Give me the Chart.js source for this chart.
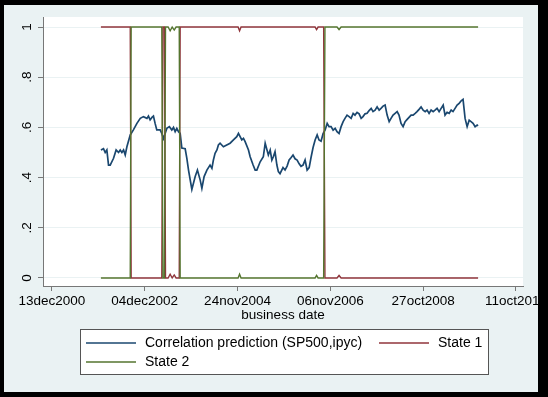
<!DOCTYPE html>
<html>
<head>
<meta charset="utf-8">
<script src="https://cdn.jsdelivr.net/npm/chart.js@4.4.1/dist/chart.umd.min.js"></script>
<style>
  html, body { margin: 0; padding: 0; background: #000; }
  #wrap { position: relative; width: 548px; height: 397px; }
</style>
</head>
<body>
<div id="wrap"><canvas id="chart" width="548" height="397"></canvas></div>
<script>
// x axis is counted in business days from 13dec2000
var tickDays = [0, 500, 1000, 1500, 2000, 2500];
var tickLabels = ['13dec2000', '04dec2002', '24nov2004', '06nov2006', '27oct2008', '11oct2010'];
var yTicks = [0, 0.2, 0.4, 0.6, 0.8, 1];
var yTickLabels = ['0', '.2', '.4', '.6', '.8', '1'];

// Correlation prediction (SP500,ipyc)
var corrDays = [
  264, 278, 287, 296, 305, 314, 332, 346, 359, 368,
  377, 386, 395, 404, 422, 439, 458, 476, 493, 512,
  520, 529, 539, 547, 556, 565, 583, 592, 601, 610,
  619, 633, 646, 655, 664, 673, 682, 691, 700, 718,
  727, 736, 754, 772, 784, 799, 808, 820, 835, 852,
  862, 870, 879, 889, 897, 906, 924, 942, 960, 978,
  996, 1005, 1014, 1023, 1032, 1041, 1059, 1068, 1084, 1095,
  1104, 1122, 1139, 1149, 1166, 1176, 1185, 1193, 1202, 1212,
  1220, 1229, 1245, 1256, 1267, 1278, 1289, 1299, 1310, 1321,
  1332, 1342, 1353, 1364, 1375, 1386, 1396, 1407, 1418, 1429,
  1439, 1450, 1461, 1472, 1483, 1493, 1504, 1515, 1526, 1536,
  1547, 1558, 1569, 1579, 1590, 1601, 1612, 1623, 1633, 1644,
  1655, 1666, 1676, 1687, 1698, 1709, 1720, 1730, 1741, 1752,
  1763, 1773, 1784, 1795, 1806, 1817, 1827, 1838, 1849, 1860,
  1870, 1881, 1892, 1903, 1914, 1924, 1935, 1946, 1957, 1967,
  1978, 1989, 2000, 2011, 2021, 2032, 2043, 2054, 2064, 2075,
  2086, 2097, 2108, 2118, 2129, 2140, 2151, 2161, 2172, 2183,
  2194, 2205, 2215, 2226, 2237, 2248, 2258, 2269, 2280, 2291,
  2296
];
var corrValues = [
  .51, .515, .50, .51, .45, .45, .477, .51, .50, .51,
  .50, .51, .49, .523, .57, .59, .616, .636, .643, .636,
  .645, .63, .64, .645, .616, .59, .59, .576, .556, .576,
  .596, .603, .59, .60, .583, .596, .583, .576, .518, .515,
  .477, .43, .353, .404, .43, .39, .357, .404, .43, .45,
  .437, .47, .497, .51, .53, .537, .523, .53, .537, .55,
  .563, .576, .563, .55, .556, .543, .51, .483, .45, .43,
  .43, .463, .483, .537, .49, .51, .47, .483, .503, .45,
  .424, .416, .44, .43, .446, .47, .48, .49, .475, .47,
  .455, .445, .45, .47, .43, .44, .48, .52, .55, .57,
  .55, .545, .575, .59, .616, .603, .603, .589, .596, .583,
  .576, .603, .623, .636, .649, .643, .636, .656, .649, .66,
  .654, .636, .643, .654, .656, .667, .676, .663, .669, .682,
  .669, .676, .685, .689, .649, .623, .636, .649, .656, .663,
  .649, .616, .603, .623, .632, .64, .649, .649, .656, .663,
  .672, .682, .669, .663, .669, .656, .669, .663, .669, .676,
  .663, .676, .689, .649, .66, .656, .669, .663, .676, .689,
  .696, .706, .712, .636, .603, .629, .623, .616, .603, .609,
  .606
];

// smoothed state probabilities
var stateDays = [264, 422, 427, 592, 598, 606, 612, 626, 637, 648, 659, 669, 686, 691, 1003, 1011, 1019, 1418, 1426, 1434, 1464, 1471, 1536, 1547, 1558, 2296];
var state1 = [1, 1, 0, 0, 1, 1, 0, 0, .015, 0, .012, 0, 0, 1, 1, .985, 1, 1, .99, 1, 1, 0, 0, .01, 0, 0];
var state2 = [0, 0, 1, 1, 0, 0, 1, 1, .985, 1, .988, 1, 1, 0, 0, .015, 0, 0, .01, 0, 0, 1, 1, .99, 1, 1];

var FONT = "'Liberation Sans', Arial, sans-serif";

function pairs(xs, ys) {
    var out = [];
    for (var i = 0; i < xs.length; i++) out.push({ x: xs[i], y: ys[i] });
    return out;
}

// background, white plot region, rotated y labels, legend, outer black frame
var stataLook = {
    id: 'stataLook',
    beforeDraw: function(chart) {
        var ctx = chart.ctx, a = chart.chartArea;
        ctx.save();
        ctx.fillStyle = '#000';
        ctx.fillRect(0, 0, chart.width, chart.height);
        ctx.fillStyle = '#eaf2f3';
        ctx.fillRect(4, 5, 534, 387);
        ctx.fillStyle = '#fff';
        ctx.fillRect(a.left, a.top, a.right - a.left, a.bottom - a.top);
        ctx.restore();
    },
    afterDraw: function(chart) {
        var ctx = chart.ctx;
        var ys = chart.scales.y;
        ctx.save();
        ctx.fillStyle = '#000';
        ctx.font = '13.5px ' + FONT;
        ctx.textAlign = 'center';
        ctx.textBaseline = 'middle';
        for (var i = 0; i < yTicks.length; i++) {
            ctx.save();
            ctx.translate(27, ys.getPixelForValue(yTicks[i]));
            ctx.rotate(-Math.PI / 2);
            ctx.fillText(yTickLabels[i], 0, 0);
            ctx.restore();
        }

        // legend box
        ctx.fillStyle = '#fff';
        ctx.fillRect(80, 329, 408, 45);
        ctx.strokeStyle = '#555';
        ctx.lineWidth = 1;
        ctx.strokeRect(80.5, 329.5, 408, 45);
        var slots = [[86, 343], [379, 343], [86, 362]];
        ctx.textAlign = 'left';
        ctx.font = '14px ' + FONT;
        chart.data.datasets.forEach(function(ds, i) {
            var s = slots[i];
            ctx.strokeStyle = ds.borderColor;
            ctx.lineWidth = 1.5;
            ctx.beginPath();
            ctx.moveTo(s[0], s[1]);
            ctx.lineTo(s[0] + 50, s[1]);
            ctx.stroke();
            ctx.fillStyle = '#000';
            ctx.fillText(ds.label, s[0] + 59, s[1] + 0.5);
        });

        // black frame round the graph region
        ctx.fillStyle = '#000';
        ctx.fillRect(0, 0, chart.width, 5);
        ctx.fillRect(0, 0, 4, chart.height);
        ctx.fillRect(538, 0, chart.width - 538, chart.height);
        ctx.fillRect(0, 392, chart.width, chart.height - 392);
        ctx.restore();
    }
};

var ctx = document.getElementById('chart').getContext('2d');
new Chart(ctx, {
    type: 'line',
    data: {
        datasets: [
            { label: 'Correlation prediction (SP500,ipyc)', data: pairs(corrDays, corrValues), borderColor: '#1a476f', borderWidth: 1.7, order: 3 },
            { label: 'State 1', data: pairs(stateDays, state1), borderColor: '#90353b', borderWidth: 1.4, order: 2 },
            { label: 'State 2', data: pairs(stateDays, state2), borderColor: '#55752f', borderWidth: 1.4, order: 1 }
        ]
    },
    options: {
        responsive: false,
        animation: false,
        devicePixelRatio: 1,
        elements: { point: { radius: 0 }, line: { tension: 0, fill: false } },
        layout: { padding: { left: 0, top: 17, right: 25, bottom: 74 } },
        plugins: { legend: { display: false }, tooltip: { enabled: false } },
        scales: {
            x: {
                type: 'linear',
                min: -48,
                max: 2538,
                afterBuildTicks: function(s) { s.ticks = tickDays.map(function(v) { return { value: v }; }); },
                afterFit: function(s) { s.height = 37; s.paddingLeft = 0; s.paddingRight = 0; },
                grid: { drawOnChartArea: false, drawTicks: true, tickLength: 5, tickColor: '#777' },
                border: { color: '#777', width: 1 },
                ticks: {
                    autoSkip: false, maxRotation: 0, minRotation: 0, padding: 2,
                    color: '#000', font: { family: FONT, size: 13.5 },
                    callback: function(v) { var i = tickDays.indexOf(v); return i < 0 ? '' : tickLabels[i]; }
                },
                title: { display: true, text: 'business date', color: '#000', font: { family: FONT, size: 13.5 }, padding: 0 }
            },
            y: {
                min: -0.032,
                max: 1.04,
                afterBuildTicks: function(s) { s.ticks = yTicks.map(function(v) { return { value: v }; }); },
                afterFit: function(s) { s.width = 43; s.paddingTop = 0; s.paddingBottom = 0; },
                grid: { color: '#eaf2f3', lineWidth: 1, drawTicks: true, tickLength: 5, tickColor: '#777' },
                border: { color: '#777', width: 1 },
                ticks: { display: false }
            }
        }
    },
    plugins: [stataLook]
});
</script>
</body>
</html>
